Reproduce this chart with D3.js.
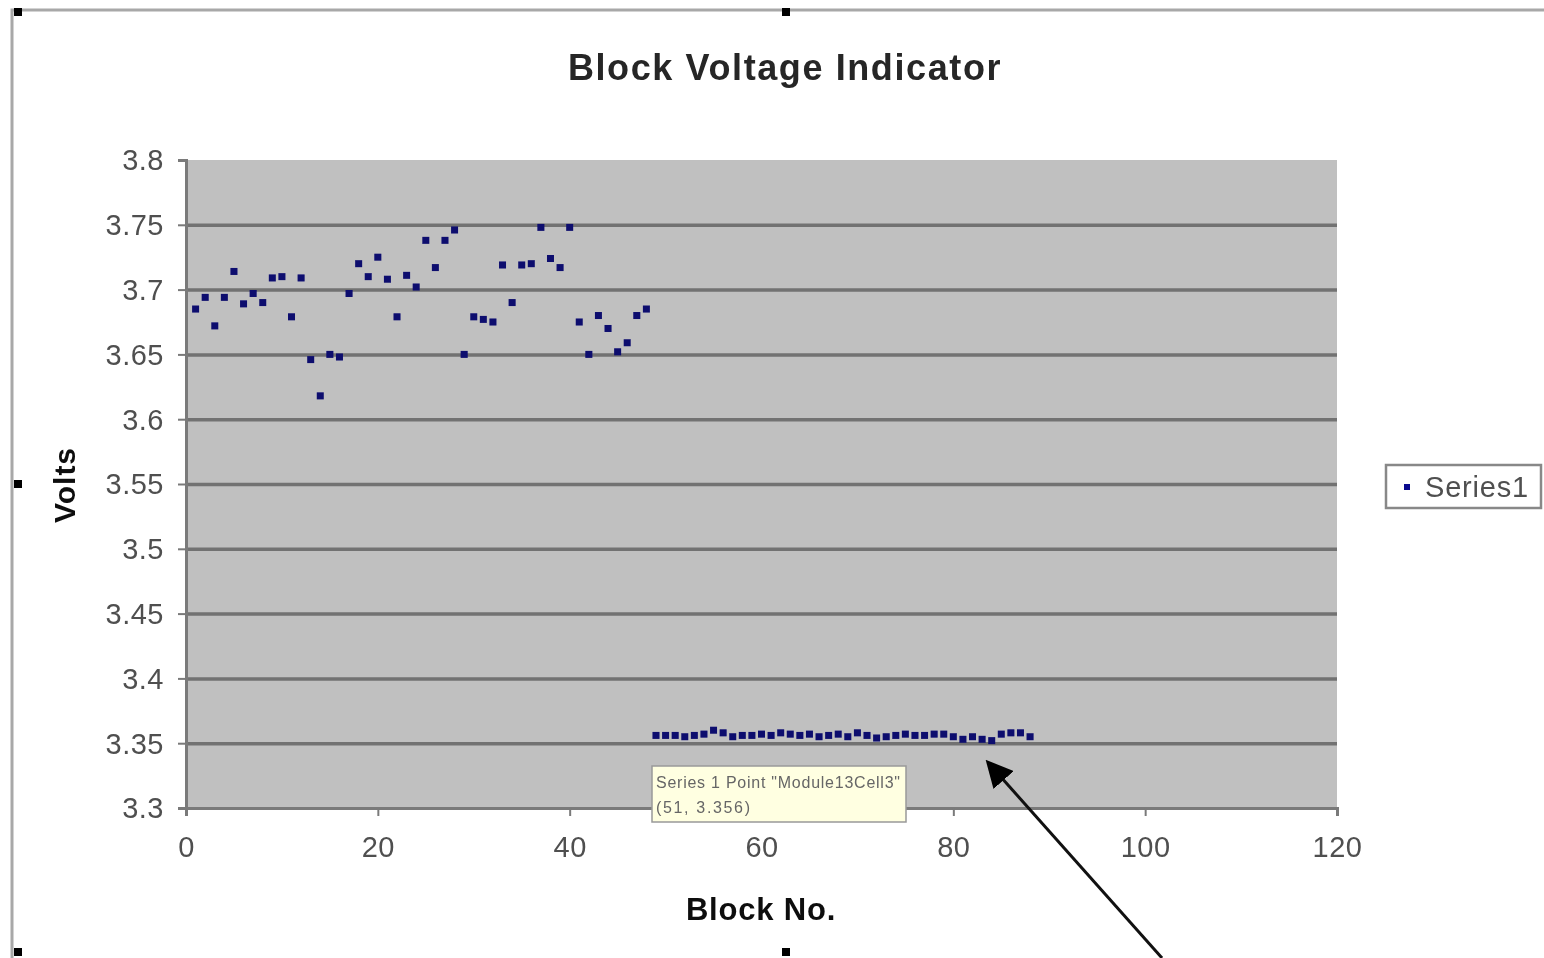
<!DOCTYPE html>
<html>
<head>
<meta charset="utf-8">
<script src="https://cdn.jsdelivr.net/npm/d3@7"></script>
<style>
    body { margin: 0; background: #fff; }
    svg { display: block; font-family: "Liberation Sans", Arial, sans-serif; }
</style>
</head>
<body>
<div id="chart"></div>
<script>
// block numbers and measured voltages
const blocks = d3.range(1, 89);
const volts = [
    3.685, 3.694, 3.672, 3.694, 3.714, 3.689, 3.697, 3.690, 3.709, 3.710,
    3.679, 3.709, 3.646, 3.618, 3.650, 3.648, 3.697, 3.720, 3.710, 3.725,
    3.708, 3.679, 3.711, 3.702, 3.738, 3.717, 3.738, 3.746, 3.650, 3.679,
    3.677, 3.675, 3.719, 3.690, 3.719, 3.720, 3.748, 3.724, 3.717, 3.748,
    3.675, 3.650, 3.680, 3.670, 3.652, 3.659, 3.680, 3.685,
    3.356, 3.356, 3.356, 3.355, 3.356, 3.357, 3.360, 3.358, 3.355, 3.356,
    3.356, 3.357, 3.356, 3.358, 3.357, 3.356, 3.357, 3.355, 3.356, 3.357,
    3.355, 3.358, 3.356, 3.354, 3.355, 3.356, 3.357, 3.356, 3.356, 3.357,
    3.357, 3.355, 3.353, 3.355, 3.353, 3.352, 3.357, 3.358, 3.358, 3.355
];
const xTicks = [0, 20, 40, 60, 80, 100, 120];
const yTicks = [3.3, 3.35, 3.4, 3.45, 3.5, 3.55, 3.6, 3.65, 3.7, 3.75, 3.8];
const seriesName = 'Series1';
const tipLines = ['Series 1 Point "Module13Cell3"', '(51, 3.356)'];

const width = 1544, height = 958;
const plot = {left: 186, right: 1337, top: 160, bottom: 808};

const svg = d3.select('#chart').append('svg')
    .attr('width', width)
    .attr('height', height);

// blurry halo like the scanned picture
const defs = svg.append('defs');
defs.append('filter').attr('id', 'soft')
    .append('feGaussianBlur').attr('stdDeviation', 0.7);
defs.append('filter').attr('id', 'softText')
    .append('feGaussianBlur').attr('stdDeviation', 0.45);

// outer chart frame and selection handles
svg.append('path')
    .attr('d', `M12,${height} V10 H${width}`)
    .attr('fill', 'none')
    .attr('stroke', '#a8a8a8')
    .attr('stroke-width', 3);
[[18, 12], [786, 12], [18, 484], [18, 952], [786, 952]].forEach(([x, y]) => {
    svg.append('rect').attr('x', x - 4).attr('y', y - 4)
        .attr('width', 8).attr('height', 8).attr('fill', '#000');
});

const x = d3.scaleLinear().domain([0, 120]).range([plot.left, plot.right]);
const y = d3.scaleLinear().domain([3.3, 3.8]).range([plot.bottom, plot.top]);

svg.append('rect')
    .attr('x', plot.left).attr('y', plot.top)
    .attr('width', plot.right - plot.left)
    .attr('height', plot.bottom - plot.top)
    .attr('fill', '#c0c0c0');

// gridlines
svg.append('g')
    .attr('transform', `translate(${plot.left},0)`)
    .call(d3.axisLeft(y).tickValues(yTicks.slice(1, -1)).tickFormat('')
        .tickSize(-(plot.right - plot.left)))
    .call(g => g.select('.domain').remove())
    .call(g => g.selectAll('line').attr('stroke', '#727272').attr('stroke-width', 3.5));

// y axis
svg.append('g')
    .attr('transform', `translate(${plot.left},0)`)
    .attr('filter', 'url(#softText)')
    .call(d3.axisLeft(y).tickValues(yTicks).tickFormat(d3.format('')).tickSize(8).tickPadding(14))
    .call(g => g.select('.domain').attr('stroke', '#7a7a7a').attr('stroke-width', 3))
    .call(g => g.selectAll('line').attr('stroke', '#7a7a7a').attr('stroke-width', 2))
    .call(g => g.selectAll('text').attr('font-size', 29).attr('fill', '#505050')
        .attr('letter-spacing', 0.5).attr('dy', '0.34em'));

// x axis
svg.append('g')
    .attr('transform', `translate(0,${plot.bottom})`)
    .attr('filter', 'url(#softText)')
    .call(d3.axisBottom(x).tickValues(xTicks).tickSize(8).tickPadding(20))
    .call(g => g.select('.domain').attr('stroke', '#7a7a7a').attr('stroke-width', 3))
    .call(g => g.selectAll('line').attr('stroke', '#7a7a7a').attr('stroke-width', 2))
    .call(g => g.selectAll('text').attr('font-size', 29).attr('fill', '#505050')
        .attr('letter-spacing', 0.5));

// points
const pts = blocks.map((b, i) => ({x: b, y: volts[i]}));
svg.append('g')
    .attr('filter', 'url(#soft)')
    .selectAll('rect')
    .data(pts)
    .join('rect')
    .attr('x', d => x(d.x) - 3.5)
    .attr('y', d => y(d.y) - 3.5)
    .attr('width', 7)
    .attr('height', 7)
    .attr('fill', '#0a0a6e');

// titles
const titles = svg.append('g').attr('filter', 'url(#softText)');
titles.append('text')
    .attr('x', 785).attr('y', 80)
    .attr('text-anchor', 'middle')
    .attr('font-size', 36).attr('font-weight', 'bold').attr('fill', '#262626')
    .attr('letter-spacing', 1.6)
    .text('Block Voltage Indicator');
titles.append('text')
    .attr('transform', 'translate(75,485) rotate(-90)')
    .attr('text-anchor', 'middle')
    .attr('font-size', 30).attr('font-weight', 'bold').attr('fill', '#111')
    .attr('letter-spacing', 1)
    .text('Volts');
titles.append('text')
    .attr('x', 761).attr('y', 920)
    .attr('text-anchor', 'middle')
    .attr('font-size', 31).attr('font-weight', 'bold').attr('fill', '#111')
    .attr('letter-spacing', 0.8)
    .text('Block No.');

// legend
const lg = svg.append('g').attr('transform', 'translate(1386,465)');
lg.append('rect').attr('width', 155).attr('height', 43)
    .attr('fill', '#fff').attr('stroke', '#888').attr('stroke-width', 2.5);
lg.append('rect').attr('x', 18).attr('y', 19).attr('width', 6).attr('height', 6).attr('fill', '#0a0a8e');
lg.append('text').attr('x', 39).attr('y', 32)
    .attr('filter', 'url(#softText)')
    .attr('font-size', 29).attr('fill', '#505050').attr('letter-spacing', 0.8)
    .text(seriesName);

// tooltip
const tip = svg.append('g').attr('transform', 'translate(652,766)');
tip.append('rect').attr('width', 254).attr('height', 56)
    .attr('fill', '#ffffe1').attr('stroke', '#999').attr('stroke-width', 1.5);
tip.selectAll('text').data(tipLines).join('text')
    .attr('x', 4).attr('y', (d, i) => 22 + i * 25)
    .attr('filter', 'url(#softText)')
    .attr('font-size', 16).attr('fill', '#666').attr('textLength', (d, i) => i ? 94 : 244)
    .text(d => d);

// pointer arrow
defs.append('marker').attr('id', 'head')
    .attr('viewBox', '0 0 10 10').attr('refX', 2).attr('refY', 5)
    .attr('markerWidth', 9).attr('markerHeight', 9)
    .attr('orient', 'auto-start-reverse')
    .append('path').attr('d', 'M0,0 L10,5 L0,10 z').attr('fill', '#000');
svg.append('line')
    .attr('x1', 1162).attr('y1', 958)
    .attr('x2', 1000).attr('y2', 776)
    .attr('stroke', '#111').attr('stroke-width', 3)
    .attr('marker-end', 'url(#head)');
</script>
</body>
</html>
